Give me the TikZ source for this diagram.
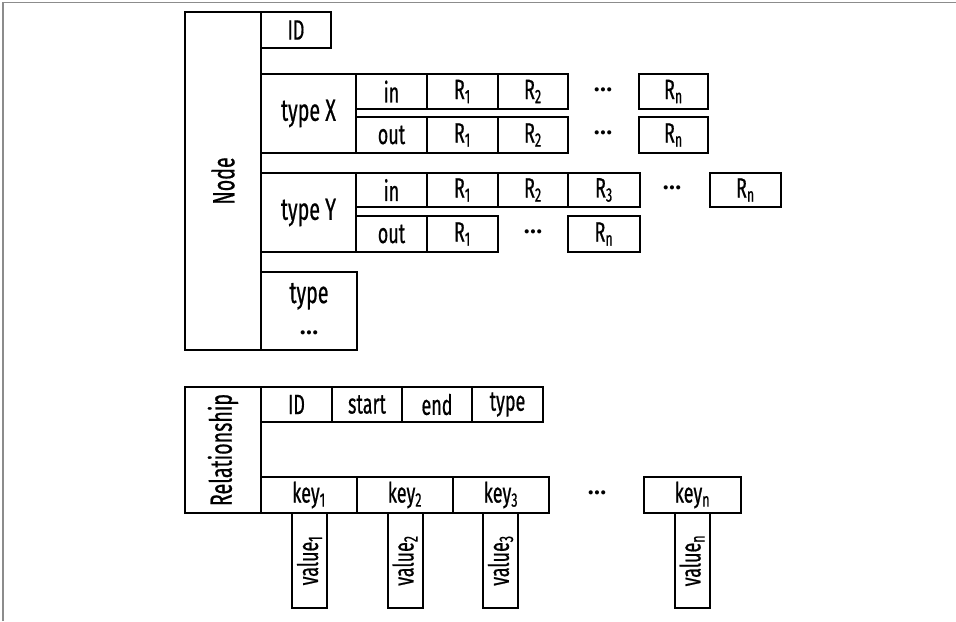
\documentclass[tikz,border=0pt]{standalone}
\usepackage{fontspec}
\setmainfont{Fira Sans}[FakeStretch=0.64, FakeBold=0.6]
\newfontfamily\plainfont{Fira Sans}
\usetikzlibrary{positioning}
\tikzset{
  cell/.style 2 args={draw=black, line width=1.5pt, inner sep=0pt, outer sep=0pt,
    minimum width=#1*0.75pt, minimum height=#2*0.75pt,
    font=\fontsize{21}{23}\selectfont, align=center},
  big/.style={font=\fontsize{23}{25}\selectfont},
  dots/.style={inner sep=0pt},
  frame/.style={draw=black!45, line width=0.8pt}
}
\newcommand{\sub}[1]{\textsubscript{#1}}
\newcommand{\dotsy}{{\plainfont\bfseries\fontsize{17}{19}\selectfont\raisebox{0.35ex}{.\kern0.6pt.\kern0.6pt.}}}
\begin{document}
\begin{tikzpicture}[x=0.75pt,y=-0.75pt]
\useasboundingbox (0,0) rectangle (956,621);
\draw[frame] (3,621) -- (3,2.5) -- (956,2.5);
% ---------- Node ----------
\node[cell={76}{338}, big] (node) at (223,181) {\rotatebox{90}{Node}};
\node[cell={70}{36}] (nid) at (296,30) {ID};
% type X
\node[cell={95}{79}, big] (tx) at (308.5,113.5) {type X};
\node[cell={71}{35}] (txin) at (391.5,91.5) {in};
\node[cell={71}{35}] (txinr1) at (462.5,91.5) {R\sub{1}};
\node[cell={70}{35}] (txinr2) at (533,91.5) {R\sub{2}};
\node[dots] (txindots) at (603,91.5) {\dotsy};
\node[cell={69}{35}] (txinrn) at (673.5,91.5) {R\sub{n}};
\node[cell={71}{36}] (txout) at (391.5,135) {out};
\node[cell={71}{36}] (txoutr1) at (462.5,135) {R\sub{1}};
\node[cell={70}{36}] (txoutr2) at (533,135) {R\sub{2}};
\node[dots] (txoutdots) at (603,135) {\dotsy};
\node[cell={69}{36}] (txoutrn) at (673.5,135) {R\sub{n}};
% type Y
\node[cell={95}{79}, big] (ty) at (308.5,212.5) {type Y};
\node[cell={71}{34}] (tyin) at (391.5,190) {in};
\node[cell={71}{34}] (tyinr1) at (462.5,190) {R\sub{1}};
\node[cell={70}{34}] (tyinr2) at (533,190) {R\sub{2}};
\node[cell={72}{34}] (tyinr3) at (604,190) {R\sub{3}};
\node[dots] (tyindots) at (672,190) {\dotsy};
\node[cell={71}{34}] (tyinrn) at (745.5,190) {R\sub{n}};
\node[cell={71}{36}] (tyout) at (391.5,234) {out};
\node[cell={71}{36}] (tyoutr1) at (462.5,234) {R\sub{1}};
\node[dots] (tyoutdots) at (533,234) {\dotsy};
\node[cell={72}{36}] (tyoutrn) at (604,234) {R\sub{n}};
% type ...
\node[cell={96}{78}, big] (tdots) at (309,311) {type\\[2pt]\dotsy};
% ---------- Relationship ----------
\node[cell={76}{126}, big] (rel) at (223,450) {\rotatebox{90}{Relationship}};
\node[cell={71}{35}] (rid) at (296.5,404.5) {ID};
\node[cell={70}{35}] (rstart) at (367,404.5) {start};
\node[cell={70}{35}] (rend) at (437,404.5) {end};
\node[cell={71}{35}] (rtype) at (507.5,404.5) {type};
\node[cell={96}{36}] (k1) at (309,495) {key\sub{1}};
\node[cell={96}{36}] (k2) at (405,495) {key\sub{2}};
\node[cell={96}{36}] (k3) at (501,495) {key\sub{3}};
\node[dots] (kdots) at (597,495) {\dotsy};
\node[cell={97}{36}] (kn) at (692.5,495) {key\sub{n}};
\node[cell={35}{95}] (v1) at (309.5,560.5) {\rotatebox{90}{value\sub{1}}};
\node[cell={35}{95}] (v2) at (405,560.5) {\rotatebox{90}{value\sub{2}}};
\node[cell={35}{95}] (v3) at (500.5,560.5) {\rotatebox{90}{value\sub{3}}};
\node[cell={35}{95}] (vn) at (692,560.5) {\rotatebox{90}{value\sub{n}}};
\end{tikzpicture}
\end{document}
